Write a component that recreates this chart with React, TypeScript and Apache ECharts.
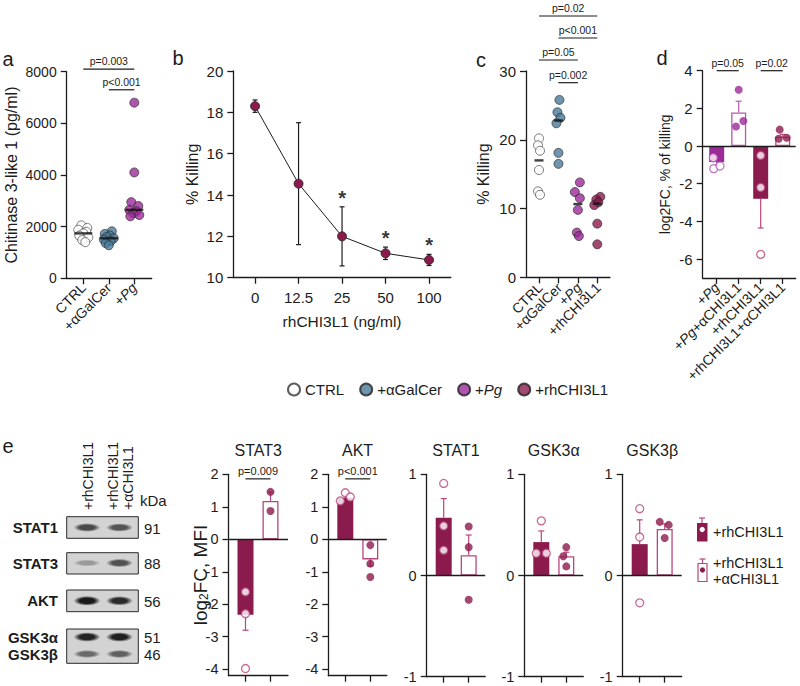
import React, { useEffect, useRef } from 'react';
import * as echarts from 'echarts';

// ---------------- Panel a ----------------
const aCategories = ['CTRL', '+αGalCer', '+Pg'];
const aCTRL = [2050, 1950, 1880, 1800, 1740, 1650, 1580, 1480, 1400];
const aGalCer = [1820, 1720, 1660, 1600, 1550, 1500, 1440, 1360, 1280];
const aPg = [6800, 4100, 2950, 2800, 2650, 2600, 2520, 2450, 2400];
const aTicks = [0, 2000, 4000, 6000, 8000];
const aSigPairs = [[0, 2], [1, 2]];
const aSigLevels = [8100, 7300];
const aSigText = ['p=0.003', 'p<0.001'];

// ---------------- Panel b ----------------
const bDoses = ['0', '12.5', '25', '50', '100'];
const bMean = [18.3, 14.55, 12.0, 11.18, 10.86];
const bErr = [0.3, 2.95, 1.43, 0.3, 0.27];
const bStars = ['', '', '*', '*', '*'];
const bTicks = [10, 12, 14, 16, 18, 20];

// ---------------- Panel c ----------------
const cCategories = ['CTRL', '+αGalCer', '+Pg', '+rhCHI3L1'];
const cCTRL = [20.2, 19.2, 18.4, 15.6, 12.5, 12.0];
const cGalCer = [25.8, 24.0, 23.2, 22.4, 18.1, 16.5];
const cPg = [13.8, 12.4, 11.5, 9.8, 6.5, 6.0];
const cRh = [11.7, 11.3, 10.9, 10.5, 7.8, 4.8];
const cTicks = [0, 10, 20, 30];
const cSigPairs = [[0, 3], [1, 3], [0, 2], [1, 2]];
const cSigLevels = [38, 34.8, 31.6, 28.3];
const cSigText = ['p=0.02', 'p<0.001', 'p=0.05', 'p=0.002'];

// ---------------- Panel d ----------------
const dCategories = ['+Pg', '+Pg+αCHI3L1', '+rhCHI3L1', '+rhCHI3L1+αCHI3L1'];
const dMean = [-0.85, 1.78, -2.8, 0.5];
const dSem = [0.18, 0.6, 1.55, 0.12];
const dPoints = [[-0.62, -1.2, -1.06], [1.04, 1.33, 2.99], [-0.5, -2.2, -5.75], [0.87, 0.39, 0.44]];
const dTicks = [-6, -4, -2, 0, 2, 4];
const dSigPairs = [[0, 1], [2, 3]];
const dSigLevels = [4, 4];
const dSigText = ['p=0.05', 'p=0.02'];

// ---------------- Panel e ----------------
const eTargets = ['STAT3', 'AKT', 'STAT1', 'GSK3α', 'GSK3β'];
const eGroups = ['+rhCHI3L1', '+rhCHI3L1\n+αCHI3L1'];
const eMeanRh = [-2.32, 1.28, 0.57, 0.33, 0.31];
const eSemRh = [0.48, 0.07, 0.19, 0.11, 0.24];
const eMeanRhAnti = [1.18, -0.62, 0.2, 0.19, 0.46];
const eSemRhAnti = [0.27, 0.2, 0.2, 0.04, 0.05];
const ePointsRh = [[-1.62, -2.29, -3.98], [1.18, 1.43, 1.3], [0.49, 0.25, 0.91], [0.22, 0.22, 0.54], [0.66, 0.38, -0.27]];
const ePointsRhAnti = [[1.46, 0.87], [-0.18, -0.75, -1.16], [0.485, 0.28, -0.24], [0.28, 0.19, 0.09], [0.53, 0.5, 0.37]];
const eSigText = ['p=0.009', 'p<0.001', '', '', ''];
const eSigLevel = 1.86;
const eTicksWide = [-4, -3, -2, -1, 0, 1, 2];
const eTicksNarrow = [-1, 0, 1];

// ---------------- Western blot ----------------
const blotLanes = ['+rhCHI3L1', '+rhCHI3L1', '+αCHI3L1'];
const blotProteins = ['STAT1', 'STAT3', 'AKT', 'GSK3α', 'GSK3β'];
const blotKDa = ['91', '88', '56', '51', '46'];
const blotIntensity = [[0.72, 0.66], [0.3, 0.68], [0.97, 0.88], [0.92, 0.94], [0.55, 0.6]];

// ---------------- styling ----------------
const FONT = 'Arial, "Liberation Sans", Helvetica, sans-serif';
const INK = '#1c1c1c';
const C_RH = '#8b1a4d';
const C_RH_LIGHT = '#b8467e';
const C_PG = '#9b2b98';
const C_PG_LIGHT = '#b559b0';
const C_GAL = '#4a7a99';

const grids = [
  { left: 66.7, top: 71.7, width: 85, height: 206.6 }, // a
  { left: 233.3, top: 71, width: 217.5, height: 206.7 }, // b
  { left: 526, top: 71, width: 84, height: 206.3 }, // c
  { left: 702.7, top: 70.7, width: 93, height: 207.2 }, // d
  { left: 228.5, top: 474.3, width: 59.5, height: 201.4 }, // STAT3
  { left: 328.3, top: 474.3, width: 58.5, height: 201.4 }, // AKT
  { left: 426.7, top: 474.3, width: 58.5, height: 202.4 }, // STAT1
  { left: 524.3, top: 474.3, width: 59, height: 202.4 }, // GSK3a
  { left: 622.7, top: 474.3, width: 59, height: 202.4 }, // GSK3b
];

const median = (arr: number[]) => {
  const s = [...arr].sort((x, y) => x - y);
  const m = Math.floor(s.length / 2);
  return s.length % 2 ? s[m] : (s[m - 1] + s[m]) / 2;
};

const italicPg = (s: string) => s.replace('Pg', '{i|Pg}');

function catXAxis(gi: number, cats: string[], firstOffset: number, spacing: number, showLabels: boolean, fs: number) {
  const g = grids[gi];
  const xmin = -firstOffset / spacing;
  const xmax = xmin + g.width / spacing;
  const ticks = cats.map((_, i) => i);
  return {
    type: 'value', gridIndex: gi, min: xmin, max: xmax,
    axisLine: { show: true, onZero: false, lineStyle: { color: INK, width: 1.3 } },
    axisTick: { show: true, length: 6, customValues: ticks, lineStyle: { color: INK, width: 1.3 } },
    axisLabel: {
      show: showLabels, customValues: ticks, rotate: 45, margin: 7, hideOverlap: false,
      showMinLabel: true, showMaxLabel: true,
      formatter: (v: number) => italicPg(cats[Math.round(v)] ?? ''),
      fontSize: fs, color: INK, fontFamily: FONT,
      rich: { i: { fontStyle: 'italic', fontSize: fs, color: INK, fontFamily: FONT } },
    },
    splitLine: { show: false },
  };
}

// rotated category labels placed through the axis scale (used where ticks are tightly spaced)
function rotatedLabelSeries(gi: number, cats: string[], yBase: number, fs: number) {
  return {
    type: 'custom', xAxisIndex: gi, yAxisIndex: gi, clip: false, silent: true, z: 6,
    data: cats.map((_, i) => [i, yBase]),
    renderItem: (params: any, api: any) => {
      const p = api.coord([api.value(0), api.value(1)]);
      return {
        type: 'text', x: p[0] + 1, y: p[1] + 8, rotation: Math.PI / 4,
        style: {
          text: italicPg(cats[params.dataIndex]), fontSize: fs, fontFamily: FONT, fill: INK,
          align: 'right', verticalAlign: 'middle',
          rich: { i: { fontStyle: 'italic', fontSize: fs, fontFamily: FONT, fill: INK } },
        },
      };
    },
  };
}

function valYAxis(gi: number, min: number, max: number, ticks: number[], fs: number, name?: string, nameGap?: number, nameFs?: number, rich?: any) {
  return {
    type: 'value', gridIndex: gi, min, max,
    axisLine: { show: true, onZero: false, lineStyle: { color: INK, width: 1.3 } },
    axisTick: { show: true, length: 6, customValues: ticks, lineStyle: { color: INK, width: 1.3 } },
    axisLabel: { customValues: ticks, fontSize: fs, color: INK, fontFamily: FONT, margin: 10, formatter: (v: number) => String(v) },
    splitLine: { show: false },
    name, nameLocation: 'middle', nameGap, nameMoveOverlap: false,
    nameTextStyle: { fontSize: nameFs, color: INK, fontFamily: FONT, rich },
  };
}

function errSeries(gi: number, items: number[][], colors: string[], capW: number) {
  return {
    type: 'custom', xAxisIndex: gi, yAxisIndex: gi, clip: false, silent: true, z: 3,
    data: items,
    renderItem: (params: any, api: any) => {
      const x = api.value(0), lo = api.value(1), hi = api.value(2), both = api.value(3);
      const p1 = api.coord([x, lo]);
      const p2 = api.coord([x, hi]);
      const st = { stroke: colors[params.dataIndex], lineWidth: 1.2 };
      const ch: any[] = [
        { type: 'line', shape: { x1: p1[0], y1: p1[1], x2: p2[0], y2: p2[1] }, style: st },
        { type: 'line', shape: { x1: p2[0] - capW, y1: p2[1], x2: p2[0] + capW, y2: p2[1] }, style: st },
      ];
      if (both) ch.push({ type: 'line', shape: { x1: p1[0] - capW, y1: p1[1], x2: p1[0] + capW, y2: p1[1] }, style: st });
      return { type: 'group', children: ch };
    },
  };
}

function sigSeries(gi: number, pairs: number[][], levels: number[], texts: string[], fs: number) {
  return {
    type: 'custom', xAxisIndex: gi, yAxisIndex: gi, clip: false, silent: true, z: 6,
    data: pairs.map((p, k) => [p[0], p[1], levels[k]]),
    renderItem: (params: any, api: any) => {
      const a = api.coord([api.value(0), api.value(2)]);
      const b = api.coord([api.value(1), api.value(2)]);
      return {
        type: 'group',
        children: [
          { type: 'line', shape: { x1: a[0], y1: a[1], x2: b[0], y2: b[1] }, style: { stroke: INK, lineWidth: 1.2 } },
          { type: 'text', x: (a[0] + b[0]) / 2, y: a[1] - 2.5, style: { text: texts[params.dataIndex], fontSize: fs, fontFamily: FONT, fill: INK, align: 'center', verticalAlign: 'bottom' } },
        ],
      };
    },
  };
}

function pointSeries(name: string | undefined, gi: number, cat: number, values: number[], jitter: number[], style: any, size: number, z = 4) {
  return {
    type: 'scatter', name, xAxisIndex: gi, yAxisIndex: gi, symbol: 'circle', symbolSize: size, z,
    itemStyle: style, silent: true,
    data: values.map((v, k) => ({ value: [cat, v], symbolOffset: [jitter[k] || 0, 0] })),
  };
}

function medianSeries(gi: number, groups: number[][], w: number) {
  return {
    type: 'scatter', xAxisIndex: gi, yAxisIndex: gi, symbol: 'rect', symbolSize: [w, 2.4], z: 5, silent: true,
    itemStyle: { color: '#111' },
    data: groups.map((g, i) => [i, median(g)]),
  };
}

const zeroLine = {
  silent: true, symbol: ['none', 'none'], label: { show: false },
  lineStyle: { color: INK, width: 1.3, type: 'solid' }, data: [{ yAxis: 0 }],
};

function barSeries(gi: number, means: number[], styles: any[], width: number) {
  return {
    type: 'bar', xAxisIndex: gi, yAxisIndex: gi, barWidth: width, z: 2, silent: true,
    data: means.map((m, i) => ({ value: [i, m], itemStyle: styles[i] })),
    markLine: zeroLine,
  };
}

function buildOption() {
  const xAxes: any[] = [];
  const yAxes: any[] = [];
  const series: any[] = [];

  // ---- a ----
  xAxes.push(catXAxis(0, aCategories, 16.6, 25.5, true, 14));
  yAxes.push(valYAxis(0, 0, 8000, aTicks, 14, 'Chitinase 3-like 1 (pg/ml)', 47, 16));
  const ctrlStyle = { color: '#fff', borderColor: '#333', borderWidth: 0.8 };
  const galStyle = { color: C_GAL, borderColor: '#222', borderWidth: 0.8 };
  const pgStyle = { color: C_PG, borderColor: '#222', borderWidth: 0.8 };
  const rhStyle = { color: C_RH, borderColor: '#222', borderWidth: 0.8 };
  series.push(pointSeries('CTRL', 0, 0, aCTRL, [-2, 4, -5, 3, 0, -4, 5, -1, 2], ctrlStyle, 9));
  series.push(pointSeries('+αGalCer', 0, 1, aGalCer, [3, -4, 1, -2, 5, -5, 2, -3, 0], galStyle, 9));
  series.push(pointSeries('+Pg', 0, 2, aPg, [0, 0, -3, 4, -5, 2, -1, 5, -4], pgStyle, 9));
  series.push(medianSeries(0, [aCTRL, aGalCer, aPg], 18));
  series.push(sigSeries(0, aSigPairs, aSigLevels, aSigText, 10.5));

  // ---- b ----
  xAxes.push({
    type: 'category', gridIndex: 1, data: bDoses, boundaryGap: true,
    axisLine: { show: true, onZero: false, lineStyle: { color: INK, width: 1.3 } },
    axisTick: { show: true, alignWithLabel: true, length: 6, lineStyle: { color: INK, width: 1.3 } },
    axisLabel: { fontSize: 15, color: INK, fontFamily: FONT, margin: 12 },
    name: 'rhCHI3L1 (ng/ml)', nameLocation: 'middle', nameGap: 36, nameMoveOverlap: false,
    nameTextStyle: { fontSize: 15.5, color: INK, fontFamily: FONT },
  });
  yAxes.push(valYAxis(1, 10, 20, bTicks, 15, '% Killing', 33, 16));
  series.push(errSeries(1, bMean.map((m, i) => [i, m - bErr[i], m + bErr[i], 1]), bMean.map(() => INK), 2.5));
  series.push({
    type: 'line', name: 'dose-response', xAxisIndex: 1, yAxisIndex: 1, data: bMean, z: 4, silent: true,
    symbol: 'circle', symbolSize: 9, itemStyle: rhStyle, lineStyle: { color: INK, width: 1 },
  });
  series.push({
    type: 'scatter', xAxisIndex: 1, yAxisIndex: 1, symbolSize: 0, silent: true, z: 5,
    data: bMean.map((m, i) => [i, m + bErr[i]]),
    label: { show: true, position: 'top', distance: -1, formatter: (p: any) => bStars[p.dataIndex], fontSize: 20, fontWeight: 'bold', color: '#000', fontFamily: FONT },
  });

  // ---- c ----
  xAxes.push(catXAxis(2, cCategories, 13, 19.43, false, 14));
  yAxes.push(valYAxis(2, 0, 30, cTicks, 15, '% Killing', 35, 16));
  series.push(pointSeries('CTRL', 2, 0, cCTRL, [0, -1, 1, 0, -1, 1], ctrlStyle, 9));
  series.push(pointSeries('+αGalCer', 2, 1, cGalCer, [1, -1, 2, -2, 0, 0], galStyle, 9));
  series.push(pointSeries('+Pg', 2, 2, cPg, [2, -3, 2, 0, -1, 1], pgStyle, 9));
  series.push(pointSeries('+rhCHI3L1', 2, 3, cRh, [3, -1, 1, -3, 0, 0], rhStyle, 9));
  series.push(medianSeries(2, [cCTRL, cGalCer, cPg, cRh], 9));
  series.push(sigSeries(2, cSigPairs, cSigLevels, cSigText, 10.5));
  series.push(rotatedLabelSeries(2, cCategories, cTicks[0], 14));

  // ---- d ----
  xAxes.push(catXAxis(3, dCategories, 14, 22, true, 14));
  yAxes.push(valYAxis(3, -7, 4, dTicks, 15, 'log2FC, % of killing', 31, 14));
  const dFill = [C_PG, '#fff', C_RH, '#fff'];
  const dEdge = [C_PG, C_PG_LIGHT, C_RH, C_RH_LIGHT];
  series.push(barSeries(3, dMean, dFill.map((f, i) => ({ color: f, borderColor: dEdge[i], borderWidth: f === '#fff' ? 1.3 : 0 })), 15));
  series.push(errSeries(3, dMean.map((m, i) => [i, m, m + Math.sign(m) * dSem[i], 0]), [C_PG_LIGHT, C_PG_LIGHT, C_RH_LIGHT, C_RH_LIGHT], 3));
  const dJit = [[-3.4, -3, 3.3], [-2.7, 4.6, 0], [0, 0, 0], [-3, -4, 4]];
  dPoints.forEach((pts, i) => {
    const filledBar = dFill[i] !== '#fff';
    const style = filledBar
      ? { color: '#fff', borderColor: dEdge[i] === C_PG ? C_PG_LIGHT : C_RH_LIGHT, borderWidth: 1.3 }
      : { color: dEdge[i] === C_PG_LIGHT ? C_PG : C_RH, borderWidth: 0 };
    series.push(pointSeries(undefined, 3, i, pts, dJit[i], style, 8));
  });
  series.push(sigSeries(3, dSigPairs, dSigLevels, dSigText, 10.5));

  // ---- e ----
  const eJitRh = [[0, 0, 0], [-5, 0, 5], [0, 0, 0], [-5, 5, 0], [0, 0, 0]];
  const eJitAnti = [[0, 0], [0, 0, 0], [0, 0, 0], [0, -3, 0], [-5, 4, 0]];
  eTargets.forEach((t, k) => {
    const gi = 4 + k;
    const wide = k < 2;
    xAxes.push(catXAxis(gi, eGroups, 17, 25, false, 14));
    yAxes.push(valYAxis(gi, wide ? -4.2 : -1, wide ? 2 : 1, wide ? eTicksWide : eTicksNarrow, 14.5,
      k === 0 ? 'log{s|2}FC, MFI' : undefined, 19, 19,
      { s: { fontSize: 12, verticalAlign: 'bottom', color: INK, fontFamily: FONT } }));
    const means = [eMeanRh[k], eMeanRhAnti[k]];
    const sems = [eSemRh[k], eSemRhAnti[k]];
    series.push(barSeries(gi, means, [
      { color: C_RH, borderWidth: 0 },
      { color: '#fff', borderColor: C_RH_LIGHT, borderWidth: 1.3 },
    ], 16));
    series.push(errSeries(gi, means.map((m, i) => [i, m, m + Math.sign(m) * sems[i], 0]), [C_RH_LIGHT, C_RH_LIGHT], 3));
    series.push(pointSeries(undefined, gi, 0, ePointsRh[k], eJitRh[k], { color: '#fff', borderColor: C_RH_LIGHT, borderWidth: 1.3 }, 8));
    series.push(pointSeries(undefined, gi, 1, ePointsRhAnti[k], eJitAnti[k], { color: C_RH, borderWidth: 0 }, 8));
    if (eSigText[k]) series.push(sigSeries(gi, [[0, 1]], [eSigLevel], [eSigText[k]], 11));
  });

  // ---- graphic ----
  const graphic: any[] = [];
  const letter = (t: string, x: number, y: number) =>
    graphic.push({ type: 'text', x, y, style: { text: t, fontSize: 20, fontFamily: FONT, fill: INK, align: 'center', verticalAlign: 'middle' } });
  letter('a', 8, 59);
  letter('b', 178, 58);
  letter('c', 481, 60);
  letter('d', 662, 58);
  letter('e', 8, 446);

  // e titles
  eTargets.forEach((t, k) => {
    const g = grids[4 + k];
    graphic.push({ type: 'text', x: g.left + g.width / 2, y: 450, style: { text: t, fontSize: 16, fontFamily: FONT, fill: INK, align: 'center', verticalAlign: 'middle' } });
  });

  // western blot
  const boxX = 66.7, boxW = 71.6;
  const boxes = [[516.7, 21.6], [552.7, 21.3], [590, 21.7], [629, 34.3]];
  boxes.forEach(([y, h]) => {
    graphic.push({ type: 'rect', shape: { x: boxX, y, width: boxW, height: h }, style: { fill: '#d3d3d3', stroke: '#2a2a2a', lineWidth: 1 } });
  });
  const bandY = [527.5, 563, 600.8, 637, 654];
  const laneX = [87, 119.5];
  blotProteins.forEach((p, i) => {
    laneX.forEach((lx, l) => {
      const a = blotIntensity[i][l];
      const col = `rgba(20,20,20,${a})`;
      graphic.push({
        type: 'ellipse', shape: { cx: lx, cy: bandY[i], rx: 13.5, ry: 2.8 + 2.2 * a },
        style: { fill: { type: 'radial', x: 0.5, y: 0.5, r: 0.5, colorStops: [{ offset: 0, color: col }, { offset: 0.55, color: col }, { offset: 1, color: 'rgba(20,20,20,0)' }] } },
      });
    });
    graphic.push({ type: 'text', x: 58, y: bandY[i], style: { text: p, fontSize: 15, fontWeight: 'bold', fontFamily: FONT, fill: INK, align: 'right', verticalAlign: 'middle' } });
    graphic.push({ type: 'text', x: 144, y: bandY[i] + 0.5, style: { text: blotKDa[i], fontSize: 15, fontFamily: FONT, fill: INK, align: 'left', verticalAlign: 'middle' } });
  });
  const laneLabelX = [87.5, 113, 128];
  blotLanes.forEach((t, i) => {
    graphic.push({ type: 'text', x: laneLabelX[i], y: 510, rotation: Math.PI / 2, style: { text: t, fontSize: 14, fontFamily: FONT, fill: INK, align: 'left', verticalAlign: 'middle' } });
  });
  graphic.push({ type: 'text', x: 140, y: 500, style: { text: 'kDa', fontSize: 15, fontFamily: FONT, fill: INK, align: 'left', verticalAlign: 'middle' } });

  // e legend
  const capLine = (x: number, y1: number, y2: number, c: string) => {
    graphic.push({ type: 'line', shape: { x1: x, y1, x2: x, y2 }, style: { stroke: c, lineWidth: 1.2 } });
    graphic.push({ type: 'line', shape: { x1: x - 3, y1, x2: x + 3, y2: y1 }, style: { stroke: c, lineWidth: 1.2 } });
  };
  capLine(702, 518, 523, C_RH_LIGHT);
  graphic.push({ type: 'rect', shape: { x: 697, y: 523, width: 10.5, height: 18.5 }, style: { fill: C_RH } });
  graphic.push({ type: 'circle', shape: { cx: 702.2, cy: 529.5, r: 2.6 }, style: { fill: '#fff' } });
  graphic.push({ type: 'text', x: 713, y: 532, style: { text: eGroups[0], fontSize: 14.5, fontFamily: FONT, fill: INK, align: 'left', verticalAlign: 'middle' } });
  capLine(702.5, 559, 563.5, C_RH_LIGHT);
  graphic.push({ type: 'rect', shape: { x: 698, y: 563.5, width: 9, height: 18 }, style: { fill: '#fff', stroke: C_RH_LIGHT, lineWidth: 1.2 } });
  graphic.push({ type: 'circle', shape: { cx: 702.5, cy: 570, r: 2.6 }, style: { fill: C_RH } });
  graphic.push({ type: 'text', x: 713, y: 571, style: { text: eGroups[1], fontSize: 14.5, lineHeight: 15.5, fontFamily: FONT, fill: INK, align: 'left', verticalAlign: 'middle' } });

  return {
    animation: false,
    backgroundColor: '#ffffff',
    textStyle: { fontFamily: FONT },
    grid: grids.map((g) => ({ ...g, containLabel: false, outerBoundsMode: 'none' })),
    xAxis: xAxes,
    yAxis: yAxes,
    legend: {
      show: true, left: 282, top: 377, itemWidth: 12, itemHeight: 12, itemGap: 15, icon: 'circle',
      selectedMode: false,
      data: ['CTRL', '+αGalCer', '+Pg', '+rhCHI3L1'],
      formatter: (n: string) => italicPg(n),
      textStyle: { fontSize: 15, color: INK, fontFamily: FONT, rich: { i: { fontStyle: 'italic', fontSize: 15, color: INK, fontFamily: FONT } } },
    },
    series,
    graphic,
  };
}

export default function App() {
  const ref = useRef<HTMLDivElement>(null);
  useEffect(() => {
    const chart = echarts.init(ref.current!, null, { renderer: 'svg' });
    chart.setOption(buildOption() as any);
    return () => chart.dispose();
  }, []);
  return <div ref={ref} style={{ position: 'absolute', left: 0, top: 0, width: 800, height: 686 }} />;
}
